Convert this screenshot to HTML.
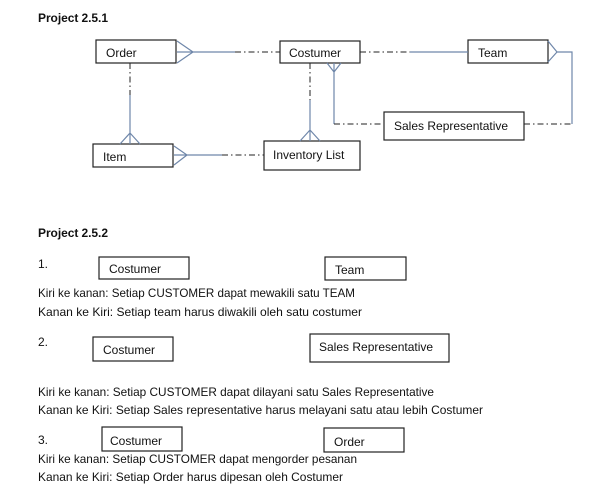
<!DOCTYPE html>
<html><head><meta charset="utf-8"><style>
html,body{margin:0;padding:0;background:#fff;}
svg{display:block;}
text{font-family:"Liberation Sans",sans-serif;font-size:12px;fill:#111;}
.b{font-weight:bold;}
</style></head><body>
<svg width="605" height="491" viewBox="0 0 605 491">
<g fill="none" stroke="#222" stroke-width="1.2">
<rect x="96" y="40" width="80" height="23"/>
<rect x="280" y="41" width="80" height="22"/>
<rect x="468" y="40" width="80" height="23"/>
<rect x="384" y="112" width="140" height="28"/>
<rect x="93" y="144" width="80" height="23"/>
<rect x="264" y="141" width="96" height="29"/>
<rect x="99" y="257" width="90" height="22"/>
<rect x="325" y="257" width="81" height="23"/>
<rect x="93" y="337" width="80" height="24"/>
<rect x="310" y="334" width="139" height="28"/>
<rect x="102" y="427" width="80" height="24"/>
<rect x="324" y="428" width="80" height="24"/>
</g>
<g fill="none" stroke="#6f87aa" stroke-width="1.2">
<path d="M177 41 L193 52 L177 63 M177 52 L235 52"/>
<path d="M410 52 L468 52"/>
<path d="M130 95 L130 144 M120 144 L130 133 L140 144"/>
<path d="M174 146 L187 155 L174 165 M174 155 L222 155"/>
<path d="M310 100 L310 141 M300 141 L310 130 L320 141"/>
<path d="M327 63 L334 72 L341 63 M334 63 L334 124"/>
<path d="M548 41 L557 52 L548 62 M557 52 L572 52 L572 124"/>
</g>
<g fill="none" stroke="#222" stroke-width="1" stroke-dasharray="6,3,1.5,3">
<path d="M235 52 L280 52"/>
<path d="M360 52 L410 52"/>
<path d="M130 63 L130 95"/>
<path d="M222 155 L264 155"/>
<path d="M310 63 L310 100"/>
<path d="M334 124 L384 124"/>
<path d="M524 124 L572 124"/>
</g>
<text x="38" y="22" class="b" textLength="70">Project 2.5.1</text>
<text x="106" y="57">Order</text>
<text x="289" y="57">Costumer</text>
<text x="478" y="57">Team</text>
<text x="394" y="130">Sales Representative</text>
<text x="103" y="161">Item</text>
<text x="273" y="159">Inventory List</text>
<text x="38" y="237" class="b" textLength="70">Project 2.5.2</text>
<text x="38" y="268">1.</text>
<text x="109" y="273">Costumer</text>
<text x="335" y="274">Team</text>
<text x="38" y="297" textLength="317" lengthAdjust="spacingAndGlyphs">Kiri ke kanan: Setiap CUSTOMER dapat mewakili satu TEAM</text>
<text x="38" y="316" textLength="324" lengthAdjust="spacingAndGlyphs">Kanan ke Kiri: Setiap team harus diwakili oleh satu costumer</text>
<text x="38" y="346">2.</text>
<text x="103" y="354">Costumer</text>
<text x="319" y="351">Sales Representative</text>
<text x="38" y="396" textLength="396" lengthAdjust="spacingAndGlyphs">Kiri ke kanan: Setiap CUSTOMER dapat dilayani  satu Sales Representative</text>
<text x="38" y="414" textLength="445" lengthAdjust="spacingAndGlyphs">Kanan ke Kiri: Setiap Sales representative harus melayani satu atau lebih Costumer</text>
<text x="38" y="444">3.</text>
<text x="110" y="445">Costumer</text>
<text x="334" y="446">Order</text>
<text x="38" y="463" textLength="319" lengthAdjust="spacingAndGlyphs">Kiri ke kanan: Setiap CUSTOMER dapat mengorder pesanan</text>
<text x="38" y="481" textLength="305" lengthAdjust="spacingAndGlyphs">Kanan ke Kiri: Setiap Order harus dipesan oleh Costumer</text>
</svg>
</body></html>
